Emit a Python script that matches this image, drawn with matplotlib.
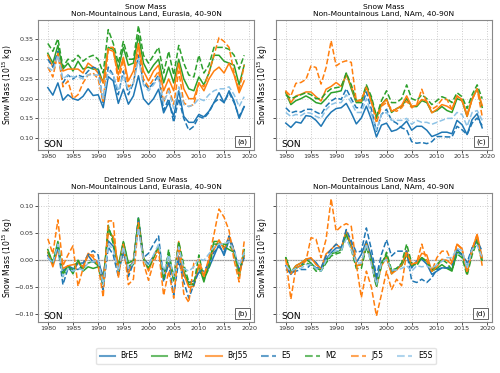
import numpy as np
from matplotlib import pyplot as plt
from matplotlib.lines import Line2D

years = np.arange(1980, 2020)

# Eurasia snow mass (10^15 kg)
eu_bre5 = [0.228, 0.209, 0.240, 0.196, 0.210, 0.200, 0.196, 0.206, 0.225, 0.208,
           0.210, 0.177, 0.256, 0.245, 0.188, 0.224, 0.186, 0.207, 0.258, 0.200,
           0.185, 0.200, 0.224, 0.164, 0.190, 0.155, 0.220, 0.155, 0.140, 0.140,
           0.160, 0.154, 0.168, 0.190, 0.215, 0.190, 0.220, 0.194, 0.150, 0.180]
eu_brm2 = [0.315, 0.290, 0.335, 0.275, 0.290, 0.270, 0.295, 0.275, 0.280, 0.275,
           0.275, 0.240, 0.330, 0.325, 0.275, 0.330, 0.285, 0.290, 0.360, 0.290,
           0.265, 0.285, 0.300, 0.240, 0.280, 0.240, 0.300, 0.250, 0.225, 0.220,
           0.255, 0.235, 0.265, 0.310, 0.310, 0.295, 0.290, 0.285, 0.235, 0.285]
eu_brj55 = [0.310, 0.280, 0.310, 0.270, 0.275, 0.275, 0.275, 0.265, 0.290, 0.280,
            0.265, 0.240, 0.325, 0.320, 0.260, 0.305, 0.245, 0.270, 0.340, 0.270,
            0.245, 0.270, 0.285, 0.220, 0.250, 0.220, 0.290, 0.225, 0.200, 0.200,
            0.240, 0.220, 0.250, 0.270, 0.280, 0.265, 0.290, 0.260, 0.215, 0.245]
eu_e5 = [0.300, 0.280, 0.320, 0.240, 0.260, 0.250, 0.260, 0.255, 0.270, 0.280,
         0.275, 0.190, 0.280, 0.260, 0.210, 0.270, 0.210, 0.240, 0.310, 0.240,
         0.225, 0.240, 0.260, 0.170, 0.200, 0.140, 0.200, 0.150, 0.120, 0.130,
         0.155, 0.150, 0.165, 0.190, 0.200, 0.190, 0.215, 0.190, 0.155, 0.180]
eu_m2 = [0.340, 0.320, 0.352, 0.280, 0.300, 0.295, 0.310, 0.295, 0.305, 0.310,
         0.300, 0.265, 0.375, 0.340, 0.290, 0.345, 0.300, 0.300, 0.385, 0.310,
         0.290, 0.310, 0.330, 0.265, 0.320, 0.260, 0.335, 0.290, 0.260, 0.255,
         0.310, 0.265, 0.285, 0.330, 0.330, 0.330, 0.325, 0.310, 0.275, 0.310]
eu_j55 = [0.280, 0.255, 0.315, 0.230, 0.245, 0.200, 0.210, 0.240, 0.260, 0.265,
          0.250, 0.190, 0.330, 0.330, 0.240, 0.300, 0.230, 0.240, 0.330, 0.250,
          0.230, 0.250, 0.270, 0.190, 0.230, 0.185, 0.270, 0.190, 0.180, 0.185,
          0.240, 0.230, 0.265, 0.310, 0.355, 0.345, 0.330, 0.265, 0.220, 0.285]
eu_e5s = [0.280, 0.270, 0.310, 0.250, 0.260, 0.255, 0.255, 0.250, 0.260, 0.260,
          0.260, 0.200, 0.270, 0.260, 0.220, 0.260, 0.220, 0.240, 0.300, 0.235,
          0.220, 0.235, 0.255, 0.190, 0.220, 0.175, 0.230, 0.185, 0.180, 0.185,
          0.200, 0.195, 0.210, 0.220, 0.225, 0.225, 0.230, 0.210, 0.180, 0.205]

# North America snow mass (10^15 kg)
na_bre5 = [0.138, 0.127, 0.141, 0.138, 0.157, 0.155, 0.145, 0.130, 0.151, 0.166,
           0.175, 0.177, 0.188, 0.164, 0.136, 0.151, 0.181, 0.147, 0.103, 0.133,
           0.138, 0.117, 0.121, 0.130, 0.143, 0.120, 0.130, 0.130, 0.120, 0.104,
           0.109, 0.115, 0.115, 0.111, 0.145, 0.134, 0.109, 0.147, 0.162, 0.126]
na_brm2 = [0.215, 0.185, 0.195, 0.200, 0.207, 0.200, 0.190, 0.187, 0.200, 0.215,
           0.217, 0.220, 0.265, 0.225, 0.190, 0.190, 0.230, 0.200, 0.150, 0.185,
           0.200, 0.165, 0.175, 0.180, 0.200, 0.180, 0.180, 0.195, 0.190, 0.165,
           0.170, 0.180, 0.170, 0.165, 0.200, 0.195, 0.155, 0.200, 0.225, 0.178]
na_brj55 = [0.219, 0.190, 0.207, 0.211, 0.217, 0.217, 0.205, 0.194, 0.224, 0.231,
            0.241, 0.231, 0.260, 0.231, 0.194, 0.194, 0.231, 0.190, 0.155, 0.185,
            0.198, 0.168, 0.174, 0.183, 0.207, 0.181, 0.183, 0.198, 0.194, 0.164,
            0.173, 0.185, 0.181, 0.173, 0.207, 0.198, 0.155, 0.198, 0.225, 0.183]
na_e5 = [0.177, 0.164, 0.168, 0.166, 0.173, 0.173, 0.166, 0.160, 0.181, 0.194,
         0.202, 0.198, 0.225, 0.200, 0.177, 0.177, 0.217, 0.173, 0.117, 0.160,
         0.173, 0.145, 0.138, 0.126, 0.121, 0.091, 0.087, 0.089, 0.086, 0.091,
         0.104, 0.104, 0.103, 0.103, 0.130, 0.121, 0.109, 0.138, 0.151, 0.132]
na_m2 = [0.210, 0.200, 0.205, 0.210, 0.215, 0.210, 0.200, 0.200, 0.215, 0.225,
         0.228, 0.230, 0.265, 0.235, 0.195, 0.195, 0.235, 0.205, 0.155, 0.195,
         0.220, 0.190, 0.190, 0.200, 0.235, 0.200, 0.195, 0.210, 0.200, 0.185,
         0.195, 0.205, 0.200, 0.190, 0.215, 0.205, 0.175, 0.210, 0.235, 0.200]
na_j55 = [0.219, 0.207, 0.239, 0.241, 0.249, 0.283, 0.279, 0.237, 0.279, 0.347,
          0.283, 0.292, 0.296, 0.292, 0.194, 0.198, 0.228, 0.194, 0.138, 0.181,
          0.190, 0.173, 0.168, 0.177, 0.194, 0.177, 0.185, 0.224, 0.190, 0.173,
          0.181, 0.198, 0.198, 0.173, 0.207, 0.194, 0.160, 0.198, 0.224, 0.155]
na_e5s = [0.165, 0.155, 0.160, 0.157, 0.165, 0.163, 0.155, 0.150, 0.172, 0.185,
          0.190, 0.190, 0.210, 0.190, 0.165, 0.165, 0.200, 0.160, 0.120, 0.160,
          0.165, 0.145, 0.145, 0.145, 0.150, 0.135, 0.145, 0.140, 0.140, 0.135,
          0.140, 0.145, 0.150, 0.150, 0.165, 0.160, 0.130, 0.165, 0.170, 0.145]

# Detrended Eurasia
eu_d_bre5 = [0.009, -0.007, 0.023, -0.020, -0.010, -0.015, -0.017, -0.010, 0.009, -0.003,
             -0.003, -0.029, 0.036, 0.026, -0.020, 0.014, -0.017, -0.001, 0.060, 0.003,
             -0.007, 0.008, 0.025, -0.023, -0.004, -0.028, 0.007, -0.028, -0.041, -0.038,
             -0.022, -0.026, -0.014, 0.008, 0.030, 0.009, 0.038, 0.017, -0.020, 0.008]
eu_d_brm2 = [0.020, -0.005, 0.035, -0.025, -0.010, -0.025, 0.000, -0.020, -0.012, -0.015,
             -0.012, -0.045, 0.060, 0.040, -0.010, 0.035, -0.005, 0.000, 0.075, 0.005,
             -0.015, 0.005, 0.025, -0.030, 0.010, -0.030, 0.030, -0.020, -0.045, -0.045,
             -0.010, -0.040, -0.005, 0.035, 0.035, 0.025, 0.020, 0.015, -0.030, 0.020]
eu_d_brj55 = [0.015, -0.012, 0.020, -0.015, -0.010, -0.008, -0.005, -0.012, 0.013, 0.005,
              -0.010, -0.035, 0.050, 0.045, -0.015, 0.030, -0.025, 0.000, 0.070, 0.005,
              -0.020, 0.005, 0.025, -0.035, -0.005, -0.035, 0.035, -0.025, -0.050, -0.048,
              -0.008, -0.030, 0.000, 0.020, 0.038, 0.020, 0.045, 0.018, -0.025, 0.008]
eu_d_e5 = [0.005, -0.005, 0.025, -0.045, -0.015, -0.020, -0.005, -0.005, 0.010, 0.018,
           0.010, -0.055, 0.025, 0.010, -0.030, 0.025, -0.030, -0.005, 0.080, 0.005,
           0.013, 0.030, 0.045, -0.040, -0.005, -0.065, 0.000, -0.040, -0.070, -0.045,
           -0.020, -0.020, -0.005, 0.015, 0.025, 0.015, 0.045, 0.020, -0.020, 0.005]
eu_d_m2 = [0.015, -0.002, 0.030, -0.030, -0.012, -0.018, 0.000, -0.015, -0.005, -0.002,
           -0.010, -0.045, 0.065, 0.030, -0.020, 0.035, -0.010, -0.008, 0.078, 0.003,
           -0.015, 0.005, 0.027, -0.035, 0.020, -0.040, 0.035, -0.008, -0.040, -0.045,
           0.010, -0.035, -0.015, 0.030, 0.030, 0.030, 0.028, 0.015, -0.020, 0.015]
eu_d_j55 = [0.040, 0.012, 0.075, -0.010, 0.010, 0.027, -0.048, -0.015, 0.010, 0.010,
            -0.010, -0.068, 0.073, 0.073, -0.033, 0.030, -0.045, -0.035, 0.070, -0.005,
            -0.037, -0.005, 0.018, -0.065, -0.020, -0.070, 0.025, -0.062, -0.078, -0.005,
            0.002, -0.030, 0.005, 0.048, 0.095, 0.080, 0.055, 0.000, -0.040, 0.035]
eu_d_e5s = [0.005, -0.005, 0.030, -0.030, -0.015, -0.020, -0.015, -0.018, -0.005, -0.002,
            0.000, -0.045, 0.030, 0.020, -0.020, 0.025, -0.015, -0.005, 0.060, 0.000,
            -0.010, 0.010, 0.030, -0.025, 0.010, -0.030, 0.025, -0.015, -0.020, -0.012,
            0.003, 0.000, 0.012, 0.025, 0.030, 0.030, 0.035, 0.018, -0.010, 0.015]

# Detrended North America
na_d_bre5 = [-0.010, -0.026, -0.014, -0.010, 0.002, 0.003, -0.004, -0.017, 0.002, 0.014,
             0.023, 0.023, 0.051, 0.030, -0.004, 0.011, 0.036, 0.007, -0.035, -0.004,
             0.003, -0.020, -0.017, -0.007, 0.011, -0.014, -0.001, 0.002, -0.007, -0.026,
             -0.020, -0.014, -0.014, -0.017, 0.020, 0.011, -0.014, 0.023, 0.039, 0.005]
na_d_brm2 = [0.005, -0.022, -0.010, -0.005, 0.002, -0.005, -0.015, -0.018, -0.002, 0.012,
             0.015, 0.020, 0.050, 0.025, -0.010, -0.008, 0.030, 0.000, -0.045, -0.005,
             0.010, -0.025, -0.015, -0.010, 0.010, -0.010, -0.005, 0.005, -0.002, -0.020,
             -0.015, -0.008, -0.015, -0.020, 0.015, 0.012, -0.025, 0.018, 0.040, 0.000]
na_d_brj55 = [0.002, -0.025, -0.010, -0.005, 0.002, 0.005, -0.008, -0.015, 0.012, 0.020,
              0.030, 0.022, 0.055, 0.025, -0.010, -0.008, 0.030, -0.005, -0.048, -0.010,
              0.005, -0.025, -0.018, -0.008, 0.018, -0.008, -0.005, 0.013, 0.010, -0.020,
              -0.012, 0.002, 0.000, -0.008, 0.030, 0.022, -0.025, 0.020, 0.048, 0.005]
na_d_e5 = [-0.017, -0.023, -0.020, -0.017, -0.017, -0.007, -0.014, -0.014, 0.008, 0.020,
           0.030, 0.023, 0.057, 0.036, 0.015, 0.017, 0.060, 0.020, -0.029, 0.011,
           0.038, 0.008, 0.017, 0.017, 0.017, -0.038, -0.041, -0.035, -0.041, -0.032,
           -0.017, -0.014, -0.014, -0.010, 0.014, 0.011, -0.004, 0.023, 0.036, 0.017]
na_d_m2 = [0.005, -0.020, -0.015, -0.010, -0.005, -0.008, -0.020, -0.020, -0.005, 0.008,
           0.012, 0.015, 0.048, 0.020, -0.015, -0.015, 0.025, -0.005, -0.050, -0.010,
           0.015, -0.018, -0.015, -0.005, 0.030, -0.005, -0.010, 0.005, -0.002, -0.018,
           -0.008, 0.002, -0.005, -0.018, 0.012, 0.005, -0.028, 0.010, 0.035, -0.005]
na_d_j55 = [0.002, -0.072, -0.014, -0.010, -0.001, 0.042, 0.039, 0.005, 0.039, 0.114,
            0.054, 0.063, 0.068, 0.063, -0.007, -0.069, -0.020, -0.050, -0.103, -0.063,
            -0.020, -0.054, -0.035, -0.047, 0.014, -0.007, -0.004, 0.030, -0.001, -0.020,
            0.005, 0.017, 0.017, -0.004, 0.030, 0.020, -0.023, 0.020, 0.048, -0.010]
na_d_e5s = [-0.010, -0.020, -0.015, -0.015, -0.008, -0.008, -0.015, -0.020, 0.000, 0.012,
            0.018, 0.018, 0.040, 0.020, -0.005, -0.005, 0.030, -0.008, -0.045, -0.005,
            0.002, -0.018, -0.018, -0.015, -0.010, -0.020, -0.010, -0.012, -0.010, -0.015,
            -0.008, -0.002, 0.005, 0.005, 0.022, 0.018, -0.015, 0.020, 0.028, 0.005]

names = ['BrE5', 'BrM2', 'BrJ55', 'E5', 'M2', 'J55', 'E5S']
colors = ['#1f77b4', '#2ca02c', '#ff7f0e', '#1f77b4', '#2ca02c', '#ff7f0e', '#8ec3e6']
styles = ['-', '-', '-', '--', '--', '--', '--']

panels = [
    ([eu_bre5, eu_brm2, eu_brj55, eu_e5, eu_m2, eu_j55, eu_e5s],
     'Snow Mass\nNon-Mountainous Land, Eurasia, 40-90N', '(a)'),
    ([na_bre5, na_brm2, na_brj55, na_e5, na_m2, na_j55, na_e5s],
     'Snow Mass\nNon-Mountainous Land, NAm, 40-90N', '(c)'),
    ([eu_d_bre5, eu_d_brm2, eu_d_brj55, eu_d_e5, eu_d_m2, eu_d_j55, eu_d_e5s],
     'Detrended Snow Mass\nNon-Mountainous Land, Eurasia, 40-90N', '(b)'),
    ([na_d_bre5, na_d_brm2, na_d_brj55, na_d_e5, na_d_m2, na_d_j55, na_d_e5s],
     'Detrended Snow Mass\nNon-Mountainous Land, NAm, 40-90N', '(d)'),
]

fig = plt.figure(figsize=(5, 3.73), dpi=100)
rects = [[0.076, 0.598, 0.432, 0.349], [0.552, 0.598, 0.432, 0.349],
         [0.076, 0.137, 0.432, 0.346], [0.552, 0.137, 0.432, 0.346]]

for i, (series, title, tag) in enumerate(panels):
    ax = fig.add_axes(rects[i])
    if i >= 2:
        ax.axhline(0, color='#999999', lw=0.9, zorder=1)
    for s, c, ls in zip(series, colors, styles):
        ax.plot(years, s, color=c, ls=ls, lw=1.1, zorder=2)
    ax.set_title(title, fontsize=5.4, pad=2.5)
    ax.grid(True, ls=':', color='#cccccc', lw=0.7)
    if i < 2:
        ax.set_ylim(0.07, 0.40)
        ax.set_yticks([0.10, 0.15, 0.20, 0.25, 0.30, 0.35])
    else:
        ax.set_ylim(-0.114, 0.125)
        ax.set_yticks([-0.10, -0.05, 0.0, 0.05, 0.10])
    ax.set_xticks(np.arange(1980, 2021, 5))
    ax.tick_params(labelsize=4.6, length=2, width=0.6, pad=1.2, colors='#333333')
    ax.set_ylabel(r'Snow Mass (10$^{15}$ kg)', fontsize=5.5)
    if i % 2 == 1:
        ax.tick_params(labelleft=False)
        ax.yaxis.set_label_coords(-0.03, 0.5)
    else:
        ax.yaxis.set_label_coords(-0.106, 0.5)
    for sp in ax.spines.values():
        sp.set_color('#888888')
        sp.set_linewidth(0.8)
    ax.text(0.025, 0.025, 'SON', transform=ax.transAxes, fontsize=6.6)
    ax.text(0.97, 0.05, tag, transform=ax.transAxes, fontsize=5.2, ha='right',
            bbox=dict(boxstyle='square,pad=0.3', fc='white', ec='#666666', lw=0.7))

handles = [Line2D([], [], color=c, ls=ls, lw=1.5, alpha=0.7) for c, ls in zip(colors, styles)]
fig.legend(handles, names, loc='center', bbox_to_anchor=(0.532, 0.046), ncol=7,
           fontsize=5.5, frameon=True, edgecolor='#dddddd', handlelength=2.0,
           columnspacing=1.8, handletextpad=0.7, borderpad=0.5)

fig.savefig('out.png', dpi=100)
